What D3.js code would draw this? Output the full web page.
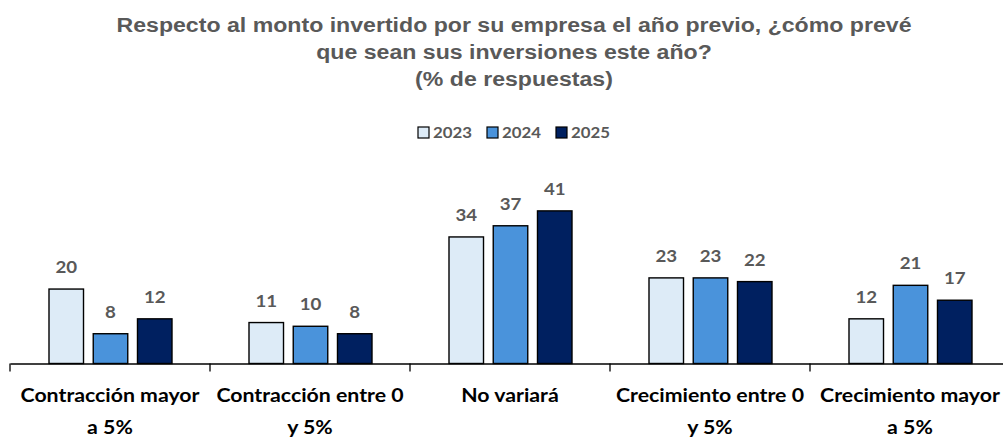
<!DOCTYPE html>
<html>
<head>
<meta charset="utf-8">
<script src="https://cdn.jsdelivr.net/npm/d3@7"></script>
<style>
  body { margin: 0; background: #fff; }
  svg { display: block; }
</style>
</head>
<body>
<div id="chart"></div>
<script>
// Datos
const titleLines = [
  'Respecto al monto invertido por su empresa el año previo, ¿cómo prevé',
  'que sean sus inversiones este año?',
  '(% de respuestas)'
];
const categories = [
  ['Contracción mayor', 'a 5%'],
  ['Contracción entre 0', 'y 5%'],
  ['No variará'],
  ['Crecimiento entre 0', 'y 5%'],
  ['Crecimiento mayor', 'a 5%']
];
const years = ['2023', '2024', '2025'];
const values2023 = [20, 11, 34, 23, 12];
const values2024 = [8, 10, 37, 23, 21];
const values2025 = [12, 8, 41, 22, 17];
const colors = ['#DDEBF7', '#4A93DB', '#002060'];

const series = [values2023, values2024, values2025];

const width = 1003, height = 438;
const svg = d3.select('#chart').append('svg')
  .attr('width', width)
  .attr('height', height);

// el original viene algo estirado a lo ancho
function stretch(sel, factor) {
  sel.each(function() {
    const w = this.getComputedTextLength();
    d3.select(this)
      .attr('textLength', w * factor)
      .attr('lengthAdjust', 'spacingAndGlyphs');
  });
}

// Titulo
const title = svg.append('g')
  .selectAll('text')
  .data(titleLines)
  .enter().append('text')
  .attr('x', 514)
  .attr('y', (d, i) => 32 + i * 27)
  .attr('text-anchor', 'middle')
  .attr('font-family', 'Liberation Sans, Arial, sans-serif')
  .attr('font-weight', 'bold')
  .attr('font-size', 20)
  .attr('fill', '#595959')
  .text(d => d);
const titleFactor = 795 / title.node().getComputedTextLength();
stretch(title, titleFactor);

// Leyenda
const legendX = [418, 487, 556];
const legend = svg.append('g');
years.forEach((yr, i) => {
  legend.append('rect')
    .attr('x', legendX[i])
    .attr('y', 127)
    .attr('width', 11)
    .attr('height', 11)
    .attr('fill', colors[i])
    .attr('stroke', '#000')
    .attr('stroke-width', 1.2);
  const t = legend.append('text')
    .attr('x', legendX[i] + 15)
    .attr('y', 138)
    .attr('font-family', 'Lato, "Open Sans", sans-serif')
    .attr('font-weight', 'bold')
    .attr('font-size', 16)
    .attr('fill', '#595959')
    .text(yr);
  stretch(t, 1.05);
});

// Escalas
const x = d3.scaleBand()
  .domain(d3.range(categories.length))
  .range([10, 1010]);
const x1 = d3.scaleBand()
  .domain(d3.range(years.length))
  .range([0, 123])
  .paddingInner(0.22);
const y = d3.scaleLinear()
  .domain([0, 45])
  .range([363.5, 196]);

const groups = svg.append('g')
  .selectAll('g')
  .data(categories)
  .enter().append('g')
  .attr('transform', (d, i) => `translate(${x(i) + 39},0)`);

groups.each(function(c, ci) {
  const g = d3.select(this);
  series.forEach((vals, si) => {
    const v = vals[ci];
    g.append('rect')
      .attr('x', x1(si))
      .attr('y', y(v))
      .attr('width', x1.bandwidth())
      .attr('height', y(0) - y(v))
      .attr('fill', colors[si])
      .attr('stroke', '#000')
      .attr('stroke-width', 1.4);
    const t = g.append('text')
      .attr('x', x1(si) + x1.bandwidth() / 2)
      .attr('y', y(v) - 16)
      .attr('text-anchor', 'middle')
      .attr('font-family', 'Lato, "Open Sans", sans-serif')
      .attr('font-weight', 'bold')
      .attr('font-size', 17)
      .attr('fill', '#595959')
      .text(v);
    stretch(t, 1.1);
  });
});

// Eje X
const axis = svg.append('g')
  .attr('transform', `translate(0,${y(0)})`)
  .call(d3.axisBottom(x).tickSize(0).tickFormat(''));
axis.select('.domain').attr('stroke', '#000').attr('stroke-width', 1.3);
axis.selectAll('.tick').remove();

svg.append('g')
  .selectAll('line')
  .data(d3.range(categories.length))
  .enter().append('line')
  .attr('x1', i => x(i))
  .attr('x2', i => x(i))
  .attr('y1', y(0))
  .attr('y2', y(0) + 8)
  .attr('stroke', '#000')
  .attr('stroke-width', 1.3);

const catLabels = svg.append('g');
categories.forEach((lines, i) => {
  lines.forEach((line, j) => {
    const t = catLabels.append('text')
      .attr('x', x(i) + x.bandwidth() / 2)
      .attr('y', 402 + j * 32)
      .attr('text-anchor', 'middle')
      .attr('font-family', 'Lato, "Open Sans", sans-serif')
      .attr('font-weight', 'bold')
      .attr('font-size', 19)
      .attr('fill', '#000')
      .text(line);
    stretch(t, 1.12);
  });
});
</script>
</body>
</html>
